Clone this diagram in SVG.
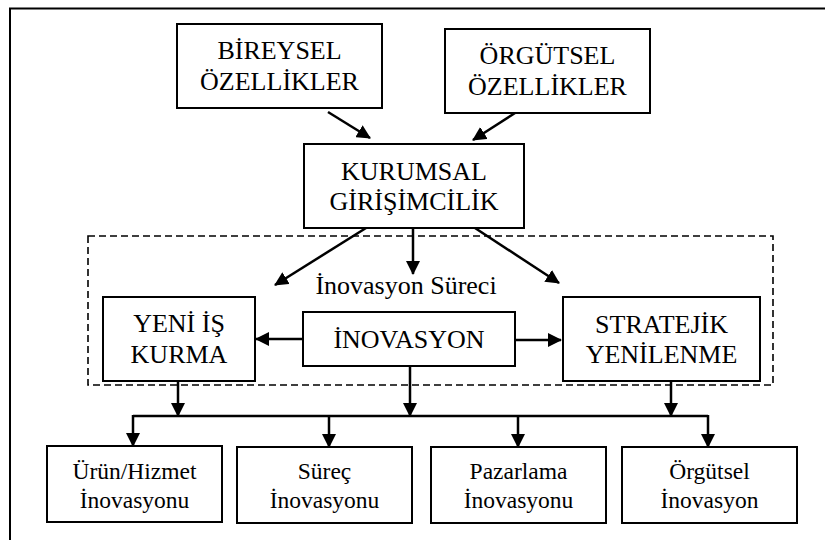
<svg xmlns="http://www.w3.org/2000/svg" width="825" height="540" viewBox="0 0 825 540">
<defs>
<marker id="ah" markerWidth="14" markerHeight="14" refX="13" refY="7" orient="auto" markerUnits="userSpaceOnUse" viewBox="0 0 14 14">
<path d="M0,0 L14,7 L0,14 Z" fill="#000"/>
</marker>
<style>
.box{fill:#fff;stroke:#000;stroke-width:2}
text{font-family:'Liberation Serif','Times New Roman','DejaVu Serif',serif;fill:#000;text-anchor:middle}
.t{font-size:26px}
.s{font-size:23.5px}
.c{stroke:#000;stroke-width:2.5;fill:none}
.ca{stroke:#000;stroke-width:2.5;fill:none;marker-end:url(#ah)}
</style>
</defs>
<rect x="0" y="0" width="825" height="540" fill="#fff"/>
<path d="M10,541 L10,8.5 L826,8.5" fill="none" stroke="#000" stroke-width="2"/>
<rect id="process-frame" x="88" y="236" width="685" height="149" fill="none" stroke="#000" stroke-width="1.6" stroke-dasharray="7,4"/>
<g id="connectors">
<line class="ca" x1="328" y1="112" x2="370" y2="138"/>
<line class="ca" x1="515" y1="113" x2="473" y2="140"/>
<line class="ca" x1="366" y1="228" x2="275" y2="285"/>
<line class="ca" x1="413" y1="228" x2="413" y2="274"/>
<line class="ca" x1="475" y1="228" x2="559" y2="283"/>
<line class="ca" x1="303" y1="339" x2="256" y2="339"/>
<line class="ca" x1="515" y1="340" x2="561" y2="340"/>
<line class="ca" x1="178" y1="381" x2="178" y2="416"/>
<line class="ca" x1="410" y1="366" x2="410" y2="416"/>
<line class="ca" x1="671" y1="381" x2="671" y2="416"/>
<line class="c" x1="133" y1="416" x2="708" y2="416"/>
<line class="ca" x1="133" y1="415" x2="133" y2="446"/>
<line class="ca" x1="329" y1="415" x2="329" y2="447"/>
<line class="ca" x1="518" y1="415" x2="518" y2="447"/>
<line class="ca" x1="708" y1="415" x2="708" y2="447"/>
</g>
<g id="bireysel">
<rect class="box" x="177" y="24" width="205" height="84"/>
<text class="t" x="279.5" y="59">BİREYSEL</text>
<text class="t" x="279.5" y="90">ÖZELLİKLER</text>
</g>
<g id="orgutsel">
<rect class="box" x="445" y="29" width="205" height="84"/>
<text class="t" x="547.5" y="64">ÖRGÜTSEL</text>
<text class="t" x="547.5" y="95">ÖZELLİKLER</text>
</g>
<g id="kurumsal">
<rect class="box" x="304" y="144" width="220" height="84"/>
<text class="t" x="414" y="180">KURUMSAL</text>
<text class="t" x="414" y="210">GİRİŞİMCİLİK</text>
</g>
<g id="surec-label">
<text class="t" x="406" y="294">İnovasyon Süreci</text>
</g>
<g id="yeni-is">
<rect class="box" x="103" y="297" width="152" height="84"/>
<text class="t" x="179" y="332">YENİ İŞ</text>
<text class="t" x="179" y="363">KURMA</text>
</g>
<g id="inovasyon">
<rect class="box" x="303" y="312" width="212" height="54"/>
<text class="t" x="409" y="348">İNOVASYON</text>
</g>
<g id="stratejik">
<rect class="box" x="563" y="297" width="197" height="84"/>
<text class="t" x="661.5" y="333">STRATEJİK</text>
<text class="t" x="661.5" y="363">YENİLENME</text>
</g>
<g id="urun">
<rect class="box" x="47" y="446" width="175" height="76"/>
<text class="s" x="134.5" y="479">Ürün/Hizmet</text>
<text class="s" x="134.5" y="508">İnovasyonu</text>
</g>
<g id="surec">
<rect class="box" x="237" y="447" width="175" height="76"/>
<text class="s" x="324.5" y="479">Süreç</text>
<text class="s" x="324.5" y="508">İnovasyonu</text>
</g>
<g id="pazarlama">
<rect class="box" x="431" y="447" width="175" height="76"/>
<text class="s" x="518.5" y="479">Pazarlama</text>
<text class="s" x="518.5" y="508">İnovasyonu</text>
</g>
<g id="orgutsel-inovasyon">
<rect class="box" x="622" y="447" width="175" height="76"/>
<text class="s" x="709.5" y="479">Örgütsel</text>
<text class="s" x="709.5" y="508">İnovasyon</text>
</g>
</svg>
